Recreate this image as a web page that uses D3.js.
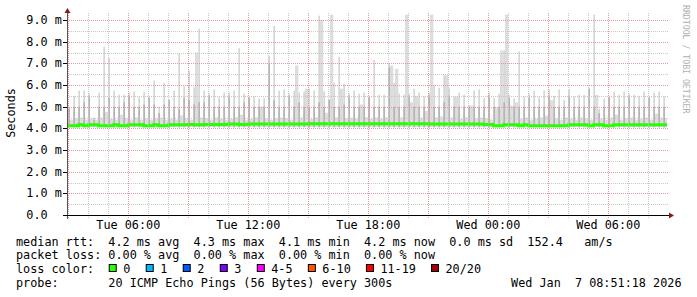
<!DOCTYPE html>
<html>
<head>
<meta charset="utf-8">
<script src="https://cdn.jsdelivr.net/npm/d3@7"></script>
<style>
  html, body { margin: 0; padding: 0; background: #fff; }
  svg text { font-family: "DejaVu Sans Mono", monospace; white-space: pre; }
</style>
</head>
<body>
<svg id="chart" width="697" height="297"></svg>
<script>
// 30 hours of smokeping data, one block per 15 minutes starting Tue 03:00
const startTime = new Date(2026, 0, 6, 2, 56);
const endTime = new Date(2026, 0, 7, 8, 56);
const firstBlock = new Date(2026, 0, 6, 3, 0);

// top of the thin spike (ms), one per 15-minute block
const spikeMax = [
  5.0, 5.5, 5.74, 5.74, 5.6, 4.5, 5.65, 7.77, 7.24, 5.74, 5.55, 5.55,
  5.65, 5.7, 5.47, 5.7, 5.5, 6.2, 5.0, 6.1, 5.35, 5.74, 7.48, 5.95,
  6.67, 5.9, 8.6, 5.74, 5.6, 5.8, 5.47, 5.65, 5.65, 5.74, 7.7, 5.6,
  5.47, 5.47, 5.37, 5.4, 7.35, 8.72, 5.74, 5.8, 5.6, 5.74, 5.65, 5.7,
  5.83, 5.74, 9.2, 5.7, 5.35, 6.1, 7.3, 6.06, 5.6, 5.74, 5.6, 5.65,
  5.5, 7.16, 5.55, 5.55, 7.0, 6.1, 5.6, 5.55, 5.6, 5.83, 5.65, 5.47,
  5.65, 6.0, 5.88, 6.45, 5.85, 5.47, 5.65, 5.55, 5.05, 5.74, 5.8, 5.4,
  5.65, 5.4, 5.6, 7.6, 5.55, 5.37, 7.55, 5.47, 5.6, 5.74, 5.47, 5.74,
  5.8, 5.5, 5.8, 5.3, 5.8, 5.47, 5.55, 5.55, 5.88, 9.25, 4.9, 5.37,
  5.47, 5.7, 5.55, 5.7, 5.6, 5.55, 5.5, 5.7, 5.47, 5.65, 5.7, 5.47
];

// top of the darker part of each spike (ms)
const spikeMid = [
  4.9, 5.0, 5.0, 5.2, 5.5, 4.4, 5.0, 5.0, 5.4, 5.0, 5.0, 5.2,
  5.5, 5.0, 5.0, 5.1, 5.4, 5.1, 4.7, 5.1, 5.3, 5.0, 4.9, 5.4,
  5.3, 5.1, 5.2, 5.2, 5.5, 5.0, 5.0, 5.0, 5.5, 5.0, 5.0, 5.2,
  5.4, 5.0, 5.0, 5.0, 7.0, 5.3, 5.0, 5.0, 5.5, 5.0, 5.2, 5.0,
  5.0, 5.0, 5.2, 5.0, 5.3, 5.0, 5.0, 5.1, 5.5, 5.0, 5.0, 5.0,
  5.4, 5.0, 5.0, 5.0, 6.8, 5.0, 5.0, 5.0, 5.5, 5.0, 5.0, 5.0,
  5.5, 5.0, 5.0, 5.2, 5.5, 5.0, 5.0, 5.0, 5.0, 5.0, 5.0, 5.0,
  5.5, 5.0, 5.0, 5.2, 5.4, 5.0, 5.0, 5.0, 5.4, 5.0, 5.0, 5.0,
  5.5, 5.0, 5.0, 5.0, 5.5, 5.0, 5.0, 5.0, 5.8, 5.0, 4.7, 5.0,
  5.4, 5.0, 5.0, 5.0, 5.5, 5.0, 5.0, 5.0, 5.4, 5.0, 5.0, 5.0
];

// light smoke over the rest of each block (ms)
const blockSmoke = [
  4.4, 4.45, 4.5, 4.4, 4.45, 4.4, 4.5, 4.75, 4.45, 4.4, 4.63, 4.45,
  4.4, 4.5, 4.4, 4.45, 4.4, 4.45, 4.5, 4.4, 4.45, 4.4, 4.6, 4.45,
  4.4, 7.5, 4.5, 4.45, 4.4, 4.5, 4.45, 4.4, 4.45, 4.5, 4.63, 4.4,
  4.45, 4.5, 5.0, 4.45, 4.4, 4.45, 4.5, 4.45, 4.4, 6.9, 4.5, 5.83,
  4.45, 4.5, 9.0, 4.72, 9.25, 4.5, 5.83, 4.45, 4.5, 4.45, 5.1, 4.5,
  4.45, 4.5, 4.45, 4.5, 6.9, 6.75, 4.5, 9.25, 5.2, 5.5, 4.5, 4.8,
  9.25, 4.5, 4.55, 6.45, 4.5, 5.47, 4.45, 4.5, 5.05, 4.45, 4.5, 4.45,
  4.4, 4.95, 7.6, 9.25, 5.05, 5.2, 4.45, 4.5, 4.4, 4.45, 4.5, 4.6,
  5.3, 4.45, 4.4, 4.5, 4.45, 4.4, 4.5, 4.45, 4.4, 5.55, 4.45, 4.4,
  4.5, 4.63, 4.4, 4.45, 4.5, 4.4, 4.45, 4.5, 4.4, 4.68, 4.5, 4.45
];

// median rtt per block (ms)
const median = [
  4.12, 4.12, 4.16, 4.12, 4.16, 4.16, 4.12, 4.12, 4.12, 4.16, 4.12, 4.12,
  4.16, 4.16, 4.16, 4.12, 4.12, 4.16, 4.12, 4.12, 4.16, 4.16, 4.16, 4.16,
  4.18, 4.16, 4.16, 4.18, 4.18, 4.18, 4.18, 4.18, 4.2, 4.2, 4.18, 4.18,
  4.2, 4.2, 4.2, 4.2, 4.2, 4.2, 4.2, 4.2, 4.2, 4.2, 4.2, 4.2,
  4.21, 4.21, 4.21, 4.21, 4.21, 4.21, 4.21, 4.21, 4.21, 4.21, 4.21, 4.21,
  4.21, 4.21, 4.21, 4.21, 4.21, 4.21, 4.21, 4.21, 4.21, 4.21, 4.21, 4.21,
  4.2, 4.2, 4.2, 4.2, 4.2, 4.2, 4.2, 4.2, 4.2, 4.2, 4.2, 4.18,
  4.18, 4.12, 4.12, 4.16, 4.16, 4.16, 4.12, 4.16, 4.12, 4.12, 4.12, 4.12,
  4.12, 4.12, 4.12, 4.12, 4.16, 4.16, 4.16, 4.16, 4.12, 4.16, 4.16, 4.12,
  4.12, 4.16, 4.16, 4.16, 4.16, 4.16, 4.16, 4.16, 4.16, 4.16, 4.16, 4.16
];

const yTicks = [0, 1, 2, 3, 4, 5, 6, 7, 8, 9];
const yTickLabels = ["0.0  ", "1.0 m", "2.0 m", "3.0 m", "4.0 m", "5.0 m", "6.0 m", "7.0 m", "8.0 m", "9.0 m"];

const legendRows = [
  "median rtt:  4.2 ms avg  4.3 ms max  4.1 ms min  4.2 ms now  0.0 ms sd  152.4   am/s",
  "packet loss: 0.00 % avg  0.00 % max  0.00 % min  0.00 % now"
];
const lossLabels = ["0", "1", "2", "3", "4-5", "6-10", "11-19", "20/20"];
const lossColors = ["#26ff00", "#00b8ff", "#0059ff", "#7e00ff", "#ff00ff", "#ff5500", "#ff0000", "#a10000"];
const probeText = "probe:       20 ICMP Echo Pings (56 Bytes) every 300s";
const dateText = "Wed Jan  7 08:51:18 2026";

const svg = d3.select('#chart');
const fontSize = '11.8px';

const x = d3.scaleTime().domain([startTime, endTime]).range([67, 667]);
const y = d3.scaleLinear().domain([0, 9]).range([215, 20]);

svg.append('rect').attr('width', 697).attr('height', 297).attr('fill', '#fff');

svg.append('defs').append('clipPath').attr('id', 'plotClip')
  .append('rect').attr('x', 67).attr('y', 10).attr('width', 600).attr('height', 205);

const blocks = spikeMax.map((v, k) => ({
  t: d3.timeMinute.offset(firstBlock, 15 * k),
  max: v,
  mid: spikeMid[k],
  smoke: blockSmoke[k],
  med: median[k]
}));

const plot = svg.append('g').attr('clip-path', 'url(#plotClip)');
const smokeFloor = 4.05;

// wide light smoke
plot.selectAll('.block')
  .data(blocks)
  .enter()
  .append('rect')
  .attr('x', d => x(d3.timeMinute.offset(d.t, 5)))
  .attr('width', d => x(d3.timeMinute.offset(d.t, 15)) - x(d3.timeMinute.offset(d.t, 5)))
  .attr('y', d => y(d.smoke))
  .attr('height', d => y(smokeFloor) - y(d.smoke))
  .attr('fill', '#dddddd');

// spikes: light top, darker body
plot.selectAll('.spike')
  .data(blocks)
  .enter()
  .append('rect')
  .attr('x', d => x(d.t))
  .attr('width', d => x(d3.timeMinute.offset(d.t, 5)) - x(d.t))
  .attr('y', d => y(d.max))
  .attr('height', d => y(smokeFloor) - y(d.max))
  .attr('fill', '#d6d6d6');

plot.selectAll('.spikeMid')
  .data(blocks)
  .enter()
  .append('rect')
  .attr('x', d => x(d.t))
  .attr('width', d => x(d3.timeMinute.offset(d.t, 5)) - x(d.t))
  .attr('y', d => y(d.mid))
  .attr('height', d => y(smokeFloor) - y(d.mid))
  .attr('fill', '#b4b4b4');

// grid
const grid = svg.append('g');
const hours = d3.timeHour.every(1).range(startTime, endTime);
hours.forEach(h => {
  const major = h.getHours() % 3 === 0;
  grid.append('line')
    .attr('x1', Math.round(x(h)) + 0.5).attr('x2', Math.round(x(h)) + 0.5)
    .attr('y1', 13).attr('y2', 219)
    .attr('stroke', major ? '#e89a9a' : '#c8c8c8')
    .attr('stroke-dasharray', '1,1');
});
d3.range(0.5, 9.01, 0.5).forEach(v => {
  const major = Number.isInteger(v);
  grid.append('line')
    .attr('x1', 67).attr('x2', 668)
    .attr('y1', Math.round(y(v)) + 0.5).attr('y2', Math.round(y(v)) + 0.5)
    .attr('stroke', major ? '#e89a9a' : '#c8c8c8')
    .attr('stroke-dasharray', '1,1');
});

// median line
const medPts = blocks.map(d => [d.t, d.med]);
medPts.unshift([startTime, median[0]]);
medPts.push([endTime, median[median.length - 1]]);
plot.append('path')
  .datum(medPts)
  .attr('fill', 'none')
  .attr('stroke', lossColors[0])
  .attr('stroke-width', 3)
  .attr('d', d3.line().x(d => x(d[0])).y(d => y(d[1])).curve(d3.curveStepAfter));

// axes
svg.append('line').attr('x1', 67.5).attr('x2', 67.5).attr('y1', 12).attr('y2', 219)
  .attr('stroke', '#555');
svg.append('line').attr('x1', 63).attr('x2', 670).attr('y1', 215.5).attr('y2', 215.5)
  .attr('stroke', '#000');
svg.append('path').attr('d', 'M64.5,13 L70.5,13 L67.5,8 Z').attr('fill', '#8b1a1a');
svg.append('path').attr('d', 'M669,212.5 L669,218.5 L674,215.5 Z').attr('fill', '#8b1a1a');

yTicks.forEach((v, i) => {
  svg.append('line').attr('x1', 63).attr('x2', 67)
    .attr('y1', Math.round(y(v)) + 0.5).attr('y2', Math.round(y(v)) + 0.5)
    .attr('stroke', '#000');
  svg.append('text')
    .attr('x', 26.3).attr('y', y(v) + 4)
    .style('font-size', fontSize)
    .text(yTickLabels[i]);
});

const fmt = d3.timeFormat('%a %H:%M');
d3.timeHour.every(6).range(startTime, endTime).forEach(t => {
  svg.append('text')
    .attr('x', x(t)).attr('y', 228.5)
    .attr('text-anchor', 'middle')
    .style('font-size', fontSize)
    .text(fmt(t));
});

svg.append('text')
  .attr('transform', 'translate(15,113) rotate(-90)')
  .attr('text-anchor', 'middle')
  .style('font-size', fontSize)
  .text('Seconds');

svg.append('text')
  .attr('transform', 'translate(683,5) rotate(90)')
  .style('font-size', '8.2px')
  .attr('fill', '#b0b0b0')
  .text('RRDTOOL / TOBI OETIKER');

// legend
const rowY = [245.5, 259, 273, 286.5];
legendRows.forEach((s, i) => {
  svg.append('text').attr('x', 16).attr('y', rowY[i]).style('font-size', fontSize).text(s);
});
svg.append('text').attr('x', 16).attr('y', rowY[2]).style('font-size', fontSize).text('loss color:');
let lx = 108.7;
lossLabels.forEach((lab, i) => {
  svg.append('rect')
    .attr('x', lx + 0.5).attr('y', rowY[2] - 8.5)
    .attr('width', 7).attr('height', 7)
    .attr('fill', lossColors[i]).attr('stroke', '#000');
  svg.append('text').attr('x', lx + 14.5).attr('y', rowY[2]).style('font-size', fontSize).text(lab);
  lx += 14.5 + lab.length * 7.02 + 15.5;
});
svg.append('text').attr('x', 16).attr('y', rowY[3]).style('font-size', fontSize).text(probeText);
svg.append('text').attr('x', 681.5).attr('y', rowY[3]).attr('text-anchor', 'end')
  .style('font-size', fontSize).text(dateText);
</script>
</body>
</html>
